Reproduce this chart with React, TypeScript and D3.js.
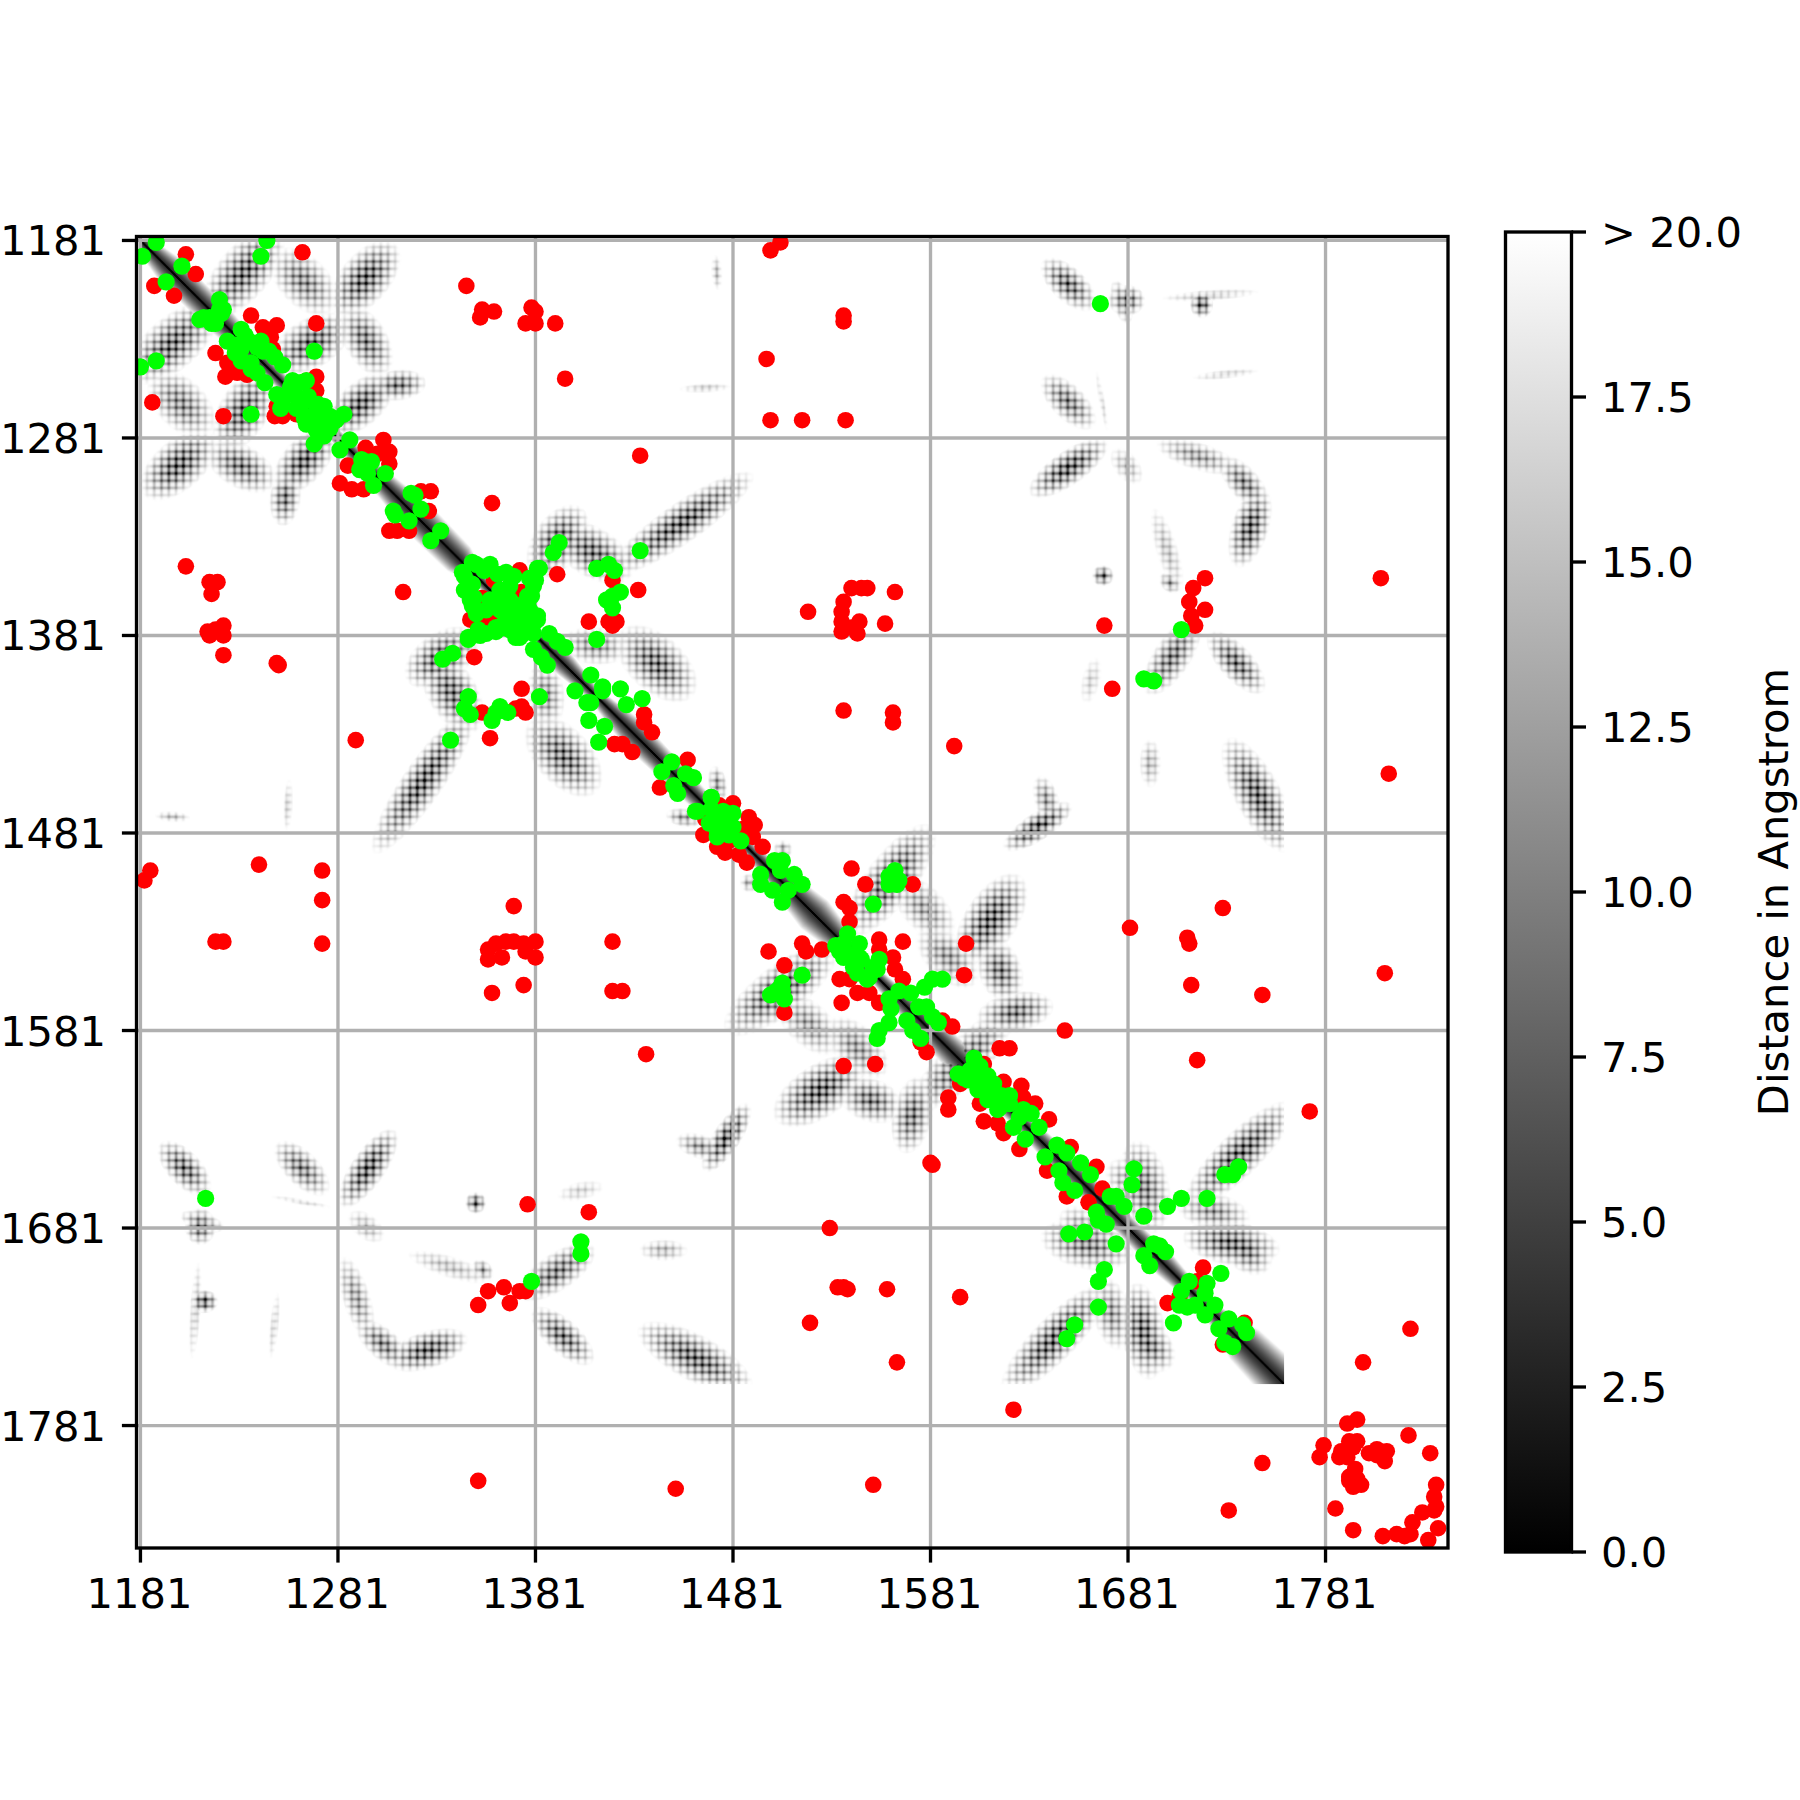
import React, { useMemo } from "react";
import * as d3 from "d3";

const axisTicks = [1181, 1281, 1381, 1481, 1581, 1681, 1781];
const colorTicks = [0, 2.5, 5, 7.5, 10, 12.5, 15, 17.5, 20];
const colorLabel = "Distance in Angstrom";

const matrixStart = 1181;
const matrixEnd = 1760;
const hatchPeriod = 3.7;
const bandSpread = 1.6;

// half width of the backbone band along the diagonal: [residue, half width in residues]
const backboneWidth: [number, number][] = [
  [1181, 6], [1195, 11], [1220, 11], [1245, 6], [1280, 5], [1300, 8], [1322, 13], [1342, 12], [1352, 5], [1381, 5],
  [1395, 9], [1410, 5], [1430, 11], [1455, 9], [1490, 5], [1522, 14], [1532, 11], [1550, 5], [1575, 9], [1597, 12],
  [1625, 6], [1645, 9], [1681, 8], [1700, 9], [1720, 5], [1740, 15], [1760, 17],
];

// upper-triangle contact bands, mirrored by symmetry: x1, y1, x2, y2, half width, strength
const blockBands: number[][] = [
  [1221, 1211, 1245, 1183, 8.5, 0.9], [1255, 1193, 1272, 1210, 8, 0.7], [1285, 1211, 1304, 1189, 8, 0.95],
  [1289, 1221, 1301, 1242, 7, 0.8], [1255, 1240, 1279, 1226, 8, 0.9], [1283, 1272, 1302, 1255, 7, 0.95],
  [1302, 1255, 1320, 1253, 5, 0.8],
];
const helixBands: number[][] = [
  [1397, 1331, 1422, 1346, 8, 0.85], [1385, 1343, 1399, 1323, 8, 0.9], [1424, 1345, 1485, 1303, 6.5, 0.95],
  [1431, 1385, 1453, 1405, 9, 0.85], [1400, 1385, 1422, 1387, 6, 0.6], [1545, 1525, 1576, 1484, 8, 0.9],
  [1569, 1510, 1586, 1528, 7, 0.55], [1602, 1539, 1621, 1510, 8.5, 0.95], [1613, 1542, 1619, 1559, 7, 0.8],
  [1611, 1574, 1636, 1569, 6.5, 0.8], [1581, 1535, 1598, 1552, 7, 0.6], [1615, 1578, 1585, 1610, 7, 0.75],
];
const lateBands: number[][] = [
  [1758, 1623, 1716, 1664, 7, 0.95], [1686, 1645, 1692, 1675, 8, 0.75], [1712, 1670, 1736, 1675, 6, 0.6],
  [1716, 1686, 1750, 1691, 7, 0.9], [1733, 1684, 1746, 1697, 7, 0.85], [1677, 1653, 1694, 1668, 7, 0.7],
  [1472, 1450, 1474, 1462, 3, 0.6], [1505, 1490, 1507, 1488, 3, 0.5],
];
const farBands: number[][] = [
  [1642, 1195, 1659, 1211, 5.5, 0.85], [1676, 1211, 1684, 1211, 5, 0.8], [1675, 1204, 1680, 1220, 3, 0.6],
  [1717, 1213, 1719, 1213, 4.5, 0.95], [1700, 1210, 1745, 1207, 1.8, 0.3], [1642, 1254, 1659, 1271, 5.5, 0.75],
  [1636, 1306, 1665, 1286, 5.5, 1], [1676, 1290, 1684, 1300, 4, 0.35], [1700, 1285, 1732, 1295, 4.5, 0.55],
  [1732, 1295, 1747, 1312, 5, 0.75], [1747, 1312, 1738, 1340, 6, 0.95], [1668, 1349, 1668, 1352, 3.5, 0.9],
  [1695, 1320, 1706, 1355, 3.5, 0.35], [1700, 1352, 1704, 1356, 3, 0.6], [1694, 1405, 1712, 1378, 6, 0.8],
  [1726, 1384, 1745, 1405, 5.5, 0.85], [1692, 1437, 1692, 1454, 3.5, 0.4], [1735, 1440, 1758, 1483, 7.5, 0.9],
  [1622, 1486, 1648, 1469, 4.5, 1], [1637, 1456, 1642, 1472, 4, 0.6], [1664, 1395, 1660, 1412, 3, 0.25],
  [1472, 1190, 1473, 1204, 1.8, 0.35], [1455, 1256, 1478, 1255, 1.5, 0.3], [1665, 1248, 1670, 1276, 1, 0.2],
  [1715, 1250, 1745, 1247, 1.5, 0.25],
];

const redBlockOne: [number, number][] = [
  [1204, 1188], [1209, 1198], [1263, 1187], [1188, 1204], [1198, 1209], [1346, 1204], [1353, 1220], [1354, 1216], [1360, 1217],
  [1379, 1215], [1381, 1217], [1376, 1223], [1381, 1223], [1391, 1223], [1396, 1251], [1237, 1219], [1243, 1225], [1250, 1224],
  [1247, 1230], [1248, 1236], [1270, 1223], [1219, 1238], [1225, 1243], [1224, 1250], [1230, 1248], [1235, 1249], [1187, 1263],
  [1223, 1270], [1270, 1250], [1265, 1252], [1270, 1257], [1249, 1270], [1253, 1270], [1260, 1269], [1250, 1265], [1295, 1286],
  [1304, 1282], [1307, 1288], [1307, 1294], [1301, 1289], [1286, 1295], [1282, 1304], [1288, 1307], [1294, 1307], [1323, 1308],
  [1328, 1308], [1327, 1318], [1307, 1328], [1311, 1328], [1317, 1328], [1359, 1314], [1204, 1346], [1216, 1354], [1220, 1354],
  [1217, 1360], [1314, 1359], [1215, 1379], [1219, 1378], [1223, 1376], [1216, 1381], [1223, 1381], [1223, 1391], [1251, 1396],
  [1392, 1350],
];
const redBlockTwo: [number, number][] = [
  [1373, 1348], [1374, 1359], [1360, 1353], [1354, 1362], [1370, 1359], [1348, 1373], [1359, 1374], [1354, 1373], [1359, 1372],
  [1420, 1353], [1408, 1374], [1418, 1374], [1422, 1374], [1433, 1358], [1420, 1376], [1350, 1392], [1374, 1408], [1374, 1417],
  [1376, 1420], [1371, 1418], [1354, 1420], [1358, 1433], [1436, 1421], [1440, 1430], [1421, 1436], [1430, 1440], [1425, 1436],
  [1436, 1425], [1458, 1444], [1444, 1458], [1481, 1466], [1474, 1467], [1467, 1474], [1466, 1482], [1479, 1485], [1473, 1488],
  [1489, 1473], [1492, 1477], [1486, 1479], [1491, 1483], [1496, 1488], [1477, 1491], [1484, 1492], [1488, 1496],
];
const redBlockThree: [number, number][] = [
  [1593, 1437], [1562, 1425], [1541, 1499], [1548, 1507], [1572, 1507], [1537, 1516], [1540, 1519], [1540, 1526], [1555, 1535],
  [1567, 1536], [1555, 1540], [1562, 1544], [1563, 1550], [1567, 1555], [1599, 1537], [1598, 1553], [1516, 1537], [1518, 1541],
  [1526, 1540], [1499, 1541], [1507, 1548], [1535, 1555], [1540, 1555], [1544, 1562], [1550, 1562], [1555, 1567], [1536, 1567],
  [1507, 1572], [1437, 1593], [1537, 1599], [1553, 1598], [1587, 1576], [1592, 1579], [1576, 1587], [1579, 1592], [1616, 1590],
  [1621, 1590], [1649, 1581], [1716, 1596], [1590, 1615], [1590, 1621], [1608, 1598], [1596, 1608], [1618, 1607], [1627, 1609],
  [1628, 1615], [1634, 1618], [1606, 1618], [1608, 1627], [1615, 1628], [1618, 1633], [1626, 1641], [1641, 1626], [1652, 1640],
  [1665, 1650], [1640, 1652], [1668, 1661], [1650, 1665], [1661, 1668], [1596, 1716], [1582, 1649], [1719, 1701], [1716, 1708],
  [1707, 1716], [1701, 1719], [1740, 1729], [1729, 1740],
];
const redFarField: [number, number][] = [
  [1505, 1182], [1500, 1186], [1537, 1219], [1537, 1222], [1498, 1241], [1500, 1272], [1516, 1272], [1538, 1272], [1434, 1290],
  [1809, 1352], [1720, 1352], [1714, 1357], [1712, 1364], [1720, 1368], [1713, 1371], [1715, 1376], [1669, 1376], [1673, 1408],
  [1813, 1451], [1541, 1357], [1546, 1357], [1549, 1357], [1537, 1364], [1536, 1369], [1519, 1369], [1563, 1359], [1536, 1374],
  [1545, 1374], [1558, 1375], [1536, 1379], [1544, 1380], [1541, 1377], [1537, 1419], [1562, 1420], [1290, 1434], [1250, 1395],
  [1183, 1505], [1186, 1500], [1241, 1497], [1273, 1500], [1273, 1515], [1273, 1537], [1219, 1536], [1223, 1536], [1370, 1518],
  [1357, 1540], [1361, 1537], [1366, 1536], [1370, 1536], [1357, 1545], [1364, 1544], [1375, 1537], [1381, 1536], [1376, 1541],
  [1381, 1544], [1359, 1562], [1375, 1558], [1420, 1536], [1420, 1561], [1425, 1561], [1682, 1529], [1711, 1534], [1712, 1537],
  [1729, 1519], [1713, 1558], [1749, 1563], [1811, 1552], [1773, 1622], [1581, 1648], [1530, 1681], [1377, 1669], [1408, 1673],
  [1365, 1711], [1357, 1713], [1352, 1720], [1368, 1719], [1373, 1713], [1376, 1713], [1534, 1711], [1537, 1711], [1539, 1712],
  [1559, 1712], [1520, 1729], [1564, 1749], [1623, 1773], [1352, 1809], [1452, 1813], [1552, 1811],
];
const redCorner: [number, number][] = [
  [1824, 1732], [1800, 1749], [1797, 1778], [1792, 1780], [1823, 1786], [1834, 1795], [1749, 1800], [1732, 1824], [1780, 1791],
  [1778, 1797], [1797, 1789], [1793, 1789], [1795, 1792], [1789, 1794], [1788, 1797], [1792, 1797], [1803, 1795], [1807, 1793],
  [1812, 1794], [1809, 1795], [1811, 1799], [1807, 1796], [1796, 1803], [1793, 1807], [1797, 1808], [1799, 1811], [1795, 1812],
  [1793, 1809], [1786, 1823], [1795, 1834], [1837, 1811], [1836, 1817], [1837, 1822], [1836, 1824], [1830, 1825], [1825, 1830],
  [1838, 1833], [1833, 1839], [1810, 1837], [1817, 1836], [1821, 1837], [1824, 1836],
];

const greenBlockOne: [number, number][] = [
  [1189, 1182], [1182, 1189], [1245, 1181], [1242, 1189], [1202, 1194], [1194, 1202], [1221, 1211], [1211, 1221], [1216, 1220],
  [1219, 1223], [1222, 1218], [1223, 1216], [1217, 1223], [1232, 1226], [1236, 1232], [1242, 1232], [1243, 1237], [1249, 1240],
  [1253, 1244], [1240, 1235], [1225, 1232], [1232, 1236], [1232, 1242], [1237, 1243], [1240, 1248], [1244, 1253], [1229, 1238],
  [1189, 1242], [1181, 1245], [1269, 1237], [1237, 1269], [1258, 1252], [1250, 1259], [1265, 1252], [1252, 1266], [1259, 1259],
  [1263, 1263], [1266, 1260], [1260, 1266], [1270, 1268], [1268, 1270], [1274, 1272], [1272, 1274], [1280, 1272], [1284, 1269],
  [1269, 1284], [1274, 1280], [1277, 1276], [1264, 1271], [1271, 1264], [1255, 1259], [1259, 1255], [1287, 1282], [1282, 1287],
  [1293, 1292], [1296, 1294], [1298, 1293], [1305, 1299], [1292, 1297], [1299, 1305], [1296, 1299], [1318, 1309], [1309, 1318],
  [1323, 1317], [1317, 1323], [1320, 1310], [1310, 1320], [1333, 1328], [1328, 1333], [1234, 1229], [1246, 1237], [1229, 1234],
  [1237, 1246], [1221, 1216], [1213, 1220], [1253, 1262], [1262, 1253], [1257, 1255], [1269, 1272], [1272, 1269], [1277, 1270],
  [1270, 1277], [1262, 1265], [1265, 1262], [1274, 1265], [1265, 1274],
];
const greenBlockTwo: [number, number][] = [
  [1349, 1344], [1344, 1349], [1355, 1348], [1348, 1355], [1362, 1350], [1350, 1362], [1382, 1347], [1378, 1352], [1380, 1356],
  [1347, 1382], [1352, 1378], [1356, 1380], [1393, 1334], [1390, 1339], [1334, 1393], [1339, 1390], [1368, 1363], [1363, 1368],
  [1372, 1372], [1377, 1377], [1370, 1366], [1366, 1370], [1378, 1368], [1368, 1378], [1375, 1370], [1370, 1375], [1375, 1380],
  [1380, 1375], [1363, 1361], [1361, 1363], [1376, 1364], [1364, 1376], [1377, 1361], [1361, 1377], [1388, 1380], [1380, 1388],
  [1392, 1384], [1384, 1392], [1396, 1387], [1387, 1396], [1412, 1383], [1383, 1412], [1412, 1347], [1418, 1345], [1421, 1348],
  [1424, 1359], [1420, 1361], [1417, 1363], [1420, 1367], [1434, 1338], [1347, 1412], [1345, 1418], [1348, 1421], [1359, 1424],
  [1361, 1420], [1363, 1417], [1367, 1420], [1338, 1434], [1409, 1401], [1401, 1409], [1415, 1407], [1407, 1415], [1409, 1415],
  [1415, 1409], [1424, 1408], [1408, 1424], [1427, 1416], [1416, 1427], [1435, 1413], [1413, 1435], [1450, 1445], [1445, 1450],
  [1461, 1453], [1453, 1461], [1457, 1451], [1451, 1457], [1463, 1470], [1470, 1463], [1474, 1474], [1349, 1355], [1348, 1363],
  [1358, 1363], [1363, 1358], [1368, 1356], [1356, 1368], [1351, 1370], [1370, 1351], [1365, 1365], [1370, 1370], [1375, 1375],
  [1382, 1371], [1371, 1382], [1380, 1380], [1378, 1374], [1374, 1378], [1351, 1345], [1358, 1345], [1366, 1349], [1345, 1351],
  [1345, 1358], [1349, 1366], [1383, 1347], [1381, 1353], [1379, 1361], [1377, 1365], [1347, 1383], [1353, 1381], [1361, 1379],
  [1365, 1377], [1366, 1366], [1372, 1366], [1366, 1372], [1379, 1379], [1382, 1373], [1373, 1382],
];
const greenBlockThree: [number, number][] = [
  [1476, 1476], [1470, 1463], [1462, 1470], [1481, 1478], [1473, 1483], [1485, 1485], [1476, 1470], [1469, 1476], [1502, 1495],
  [1506, 1495], [1512, 1502], [1516, 1507], [1495, 1502], [1495, 1507], [1501, 1510], [1506, 1516], [1509, 1510], [1505, 1500],
  [1552, 1517], [1560, 1507], [1563, 1500], [1564, 1507], [1516, 1553], [1506, 1561], [1500, 1563], [1507, 1565], [1505, 1559],
  [1539, 1532], [1533, 1538], [1545, 1537], [1537, 1544], [1542, 1549], [1554, 1550], [1549, 1555], [1543, 1542], [1546, 1545],
  [1552, 1549], [1535, 1541], [1565, 1561], [1571, 1562], [1560, 1565], [1561, 1570], [1578, 1559], [1582, 1555], [1587, 1555],
  [1554, 1585], [1555, 1581], [1560, 1577], [1569, 1576], [1572, 1581], [1576, 1585], [1575, 1569], [1579, 1569], [1582, 1574],
  [1585, 1577], [1474, 1473], [1479, 1475], [1473, 1480], [1479, 1482], [1470, 1469], [1481, 1471], [1560, 1503], [1565, 1505],
  [1506, 1557], [1503, 1561], [1537, 1537], [1545, 1544], [1542, 1545], [1544, 1552], [1550, 1554], [1555, 1545],
];
const greenBlockFour: [number, number][] = [
  [1603, 1595], [1595, 1603], [1606, 1599], [1610, 1604], [1600, 1606], [1605, 1611], [1613, 1608], [1617, 1614], [1610, 1616],
  [1615, 1621], [1621, 1614], [1628, 1621], [1632, 1623], [1623, 1630], [1636, 1630], [1629, 1636], [1626, 1625], [1645, 1639],
  [1639, 1645], [1650, 1643], [1657, 1648], [1662, 1654], [1646, 1652], [1648, 1658], [1654, 1662], [1684, 1651], [1683, 1659],
  [1672, 1665], [1675, 1665], [1679, 1670], [1701, 1670], [1708, 1666], [1721, 1666], [1730, 1654], [1737, 1650], [1734, 1654],
  [1689, 1675], [1665, 1673], [1666, 1677], [1670, 1679], [1651, 1684], [1659, 1683], [1675, 1689], [1669, 1702], [1666, 1708],
  [1666, 1721], [1654, 1730], [1650, 1737], [1694, 1689], [1697, 1690], [1700, 1693], [1689, 1695], [1692, 1700], [1712, 1708],
  [1708, 1713], [1728, 1704], [1721, 1709], [1720, 1714], [1725, 1720], [1720, 1725], [1715, 1720], [1711, 1721], [1707, 1720],
  [1704, 1729], [1732, 1727], [1739, 1730], [1741, 1734], [1727, 1732], [1730, 1739], [1734, 1741], [1601, 1601], [1605, 1606],
  [1610, 1610], [1606, 1605], [1612, 1614], [1615, 1617], [1598, 1605], [1616, 1620], [1621, 1618],
];
const greenFarField: [number, number][] = [
  [1667, 1213], [1214, 1666], [1708, 1378], [1689, 1403], [1694, 1404], [1404, 1688], [1404, 1694], [1379, 1708],
];

const redContacts = [...redBlockOne, ...redBlockTwo, ...redBlockThree, ...redFarField, ...redCorner];
const greenContacts = [...greenBlockOne, ...greenBlockTwo, ...greenBlockThree, ...greenBlockFour, ...greenFarField];

const x = d3.scaleLinear().domain([1179, 1843]).range([136.5, 1448]);
const y = d3.scaleLinear().domain([1179, 1843]).range([236.5, 1548]);
const bar = d3.scaleLinear().domain([0, 20]).range([1552, 232]);
const gray = d3.scaleLinear().domain([0, 1]).range([255, 0]).clamp(true);
const backboneAt = d3.scaleLinear().domain(backboneWidth.map((d) => d[0])).range(backboneWidth.map((d) => d[1])).clamp(true);

function buildMatrix(): string {
  const step = 0.5;
  const n = Math.round((matrixEnd - matrixStart) / step);
  const dark = new Float32Array(n * n);
  const bands = [...blockBands, ...helixBands, ...lateBands, ...farBands];
  const hatch = (v: number) => {
    const c = Math.cos((Math.PI * v) / hatchPeriod);
    return c * c * c * c;
  };
  for (const [x1, y1, x2, y2, w0, s] of bands) {
    const w = w0 * bandSpread;
    const dx = x2 - x1;
    const dy = y2 - y1;
    const len = Math.sqrt(dx * dx + dy * dy) || 1;
    const ux = dx / len;
    const uy = dy / len;
    const cx = (x1 + x2) / 2;
    const cy = (y1 + y2) / 2;
    const along = len / 2 + w * 0.7;
    const reach = along + w;
    const minX = Math.max(0, Math.floor((cx - reach - matrixStart) / step));
    const maxX = Math.min(n - 1, Math.ceil((cx + reach - matrixStart) / step));
    const minY = Math.max(0, Math.floor((cy - reach - matrixStart) / step));
    const maxY = Math.min(n - 1, Math.ceil((cy + reach - matrixStart) / step));
    for (let j = minY; j <= maxY; j++) {
      const py = matrixStart + j * step;
      for (let i = minX; i <= maxX; i++) {
        const px = matrixStart + i * step;
        const ax = (px - cx) * ux + (py - cy) * uy;
        const pe = -(px - cx) * uy + (py - cy) * ux;
        const r = Math.sqrt((ax * ax) / (along * along) + (pe * pe) / (w * w));
        if (r >= 1) continue;
        const f = 1 - Math.pow(r, 1.6);
        const lattice = 0.5 * hatch(px) + 0.5 * hatch(py);
        const v = s * (0.22 * f * f * f + 1.05 * f * lattice);
        if (v > dark[j * n + i]) dark[j * n + i] = v;
        if (v > dark[i * n + j]) dark[i * n + j] = v;
      }
    }
  }
  for (let j = 0; j < n; j++) {
    for (let i = 0; i < n; i++) {
      const k = Math.abs(i - j) * step;
      if (k > 20) continue;
      const mid = matrixStart + ((i + j) / 2) * step;
      const k0 = backboneAt(mid);
      if (k >= k0) continue;
      const q = k / k0;
      const v = k < 0.8 ? 1 : 0.85 * (1 - Math.pow(q, 1.4));
      if (v > dark[j * n + i]) dark[j * n + i] = v;
    }
  }
  const canvas = document.createElement("canvas");
  canvas.width = n;
  canvas.height = n;
  const ctx = canvas.getContext("2d")!;
  const img = ctx.createImageData(n, n);
  for (let p = 0; p < n * n; p++) {
    const g = gray(dark[p]);
    img.data[p * 4] = g;
    img.data[p * 4 + 1] = g;
    img.data[p * 4 + 2] = g;
    img.data[p * 4 + 3] = 255;
  }
  ctx.putImageData(img, 0, 0);
  return canvas.toDataURL("image/png");
}

const font = "'DejaVu Sans', sans-serif";
const fontSize = 41.67;
const lw = 3.33;

export default function App() {
  const href = useMemo(buildMatrix, []);
  const [x0, x1] = x.range();
  const [y0, y1] = y.range();
  return (
    <svg width={1800} height={1800} viewBox="0 0 1800 1800" style={{ position: "absolute", left: 0, top: 0, background: "#fff" }} fontFamily={font} fontSize={fontSize}>
      <defs>
        <clipPath id="axes-clip"><rect x={x0} y={y0} width={x1 - x0} height={y1 - y0} /></clipPath>
        <linearGradient id="bar-gradient" x1="0" y1="1" x2="0" y2="0">
          <stop offset="0" stopColor="#000" />
          <stop offset="1" stopColor="#fff" />
        </linearGradient>
      </defs>
      <image href={href} x={x(matrixStart)} y={y(matrixStart)} width={x(matrixEnd) - x(matrixStart)} height={y(matrixEnd) - y(matrixStart)} preserveAspectRatio="none" />
      <g stroke="#b0b0b0" strokeWidth={lw} clipPath="url(#axes-clip)">
        {axisTicks.map((t) => <line key={`gx${t}`} x1={x(t)} x2={x(t)} y1={y0} y2={y1} />)}
        {axisTicks.map((t) => <line key={`gy${t}`} y1={y(t)} y2={y(t)} x1={x0} x2={x1} />)}
      </g>
      <g clipPath="url(#axes-clip)">
        {redContacts.map(([a, b], i) => <circle key={`r${i}`} cx={x(a)} cy={y(b)} r={8.3} fill="#ff0000" />)}
        {greenContacts.map(([a, b], i) => <circle key={`g${i}`} cx={x(a)} cy={y(b)} r={8.6} fill="#00ff00" />)}
      </g>
      <rect x={x0} y={y0} width={x1 - x0} height={y1 - y0} fill="none" stroke="#000" strokeWidth={lw} />
      <g stroke="#000" strokeWidth={lw}>
        {axisTicks.map((t) => <line key={`tx${t}`} x1={x(t)} x2={x(t)} y1={y1} y2={y1 + 14.6} />)}
        {axisTicks.map((t) => <line key={`ty${t}`} y1={y(t)} y2={y(t)} x1={x0} x2={x0 - 14.6} />)}
      </g>
      {axisTicks.map((t) => <text key={`lx${t}`} x={x(t) - 1} y={1608} textAnchor="middle" fill="#000">{t}</text>)}
      {axisTicks.map((t) => <text key={`ly${t}`} x={106} y={y(t) + 15} textAnchor="end" fill="#000">{t}</text>)}
      <rect x={1505.5} y={bar(20)} width={66} height={bar(0) - bar(20)} fill="url(#bar-gradient)" stroke="#000" strokeWidth={lw} />
      {colorTicks.map((t) => (
        <g key={`c${t}`}>
          <line x1={1571.5} x2={1586} y1={bar(t)} y2={bar(t)} stroke="#000" strokeWidth={lw} />
          <text x={1601} y={bar(t) + 15} fill="#000">{t === 20 ? "> 20.0" : t.toFixed(1)}</text>
        </g>
      ))}
      <text transform={`translate(1788,892) rotate(-90)`} textAnchor="middle" fill="#000">{colorLabel}</text>
    </svg>
  );
}
